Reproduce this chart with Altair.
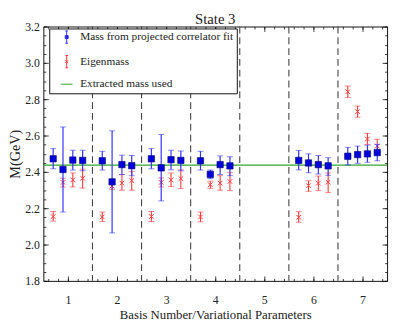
import altair as alt
import pandas as pd

# ---------------- data ----------------
basis = [1] * 4 + [2] * 4 + [3] * 4 + [4] * 4 + [6] * 4 + [7] * 4
param = [1, 2, 3, 4] * 6

fit_mass = [2.472, 2.413, 2.465, 2.463,
            2.461, 2.345, 2.440, 2.434,
            2.472, 2.422, 2.467, 2.463,
            2.461, 2.386, 2.440, 2.433,
            2.463, 2.449, 2.440, 2.433,
            2.486, 2.495, 2.499, 2.506]
fit_low = [2.417, 2.179, 2.410, 2.406,
           2.410, 2.064, 2.385, 2.379,
           2.417, 2.240, 2.411, 2.406,
           2.410, 2.363, 2.385, 2.379,
           2.411, 2.395, 2.388, 2.381,
           2.438, 2.447, 2.453, 2.461]
fit_high = [2.528, 2.647, 2.519, 2.519,
            2.513, 2.626, 2.492, 2.490,
            2.528, 2.606, 2.519, 2.515,
            2.513, 2.410, 2.488, 2.483,
            2.517, 2.499, 2.490, 2.478,
            2.535, 2.542, 2.547, 2.551]

eig_mass = [2.154, 2.342, 2.356, 2.365,
            2.152, 2.322, 2.338, 2.352,
            2.154, 2.342, 2.356, 2.363,
            2.152, 2.329, 2.338, 2.347,
            2.150, 2.324, 2.338, 2.343,
            2.841, 2.732, 2.581, 2.542]
eig_low = [2.129, 2.317, 2.317, 2.311,
           2.127, 2.304, 2.299, 2.299,
           2.127, 2.317, 2.319, 2.308,
           2.125, 2.309, 2.299, 2.297,
           2.123, 2.293, 2.297, 2.286,
           2.810, 2.701, 2.551, 2.504]
eig_high = [2.182, 2.365, 2.394, 2.415,
            2.179, 2.340, 2.385, 2.401,
            2.182, 2.367, 2.394, 2.411,
            2.179, 2.349, 2.379, 2.397,
            2.181, 2.351, 2.377, 2.394,
            2.873, 2.762, 2.612, 2.579]

extracted_mass = [2.437]
dividers = [1.5, 2.5, 3.5, 4.5, 5.5, 6.5]

x_major = [1, 2, 3, 4, 5, 6, 7]
x_minor = [round(0.6 + 0.2 * i, 1) for i in range(35)]
y_major = [1.8, 2.0, 2.2, 2.4, 2.6, 2.8, 3.0, 3.2]
y_minor = [round(1.8 + 0.05 * i, 2) for i in range(29)]

series = ["Mass from projected correlator fit", "Eigenmass", "Extracted mass used"]

# ---------------- tables ----------------
xpos = [b + (p - 2.5) * 0.2 for b, p in zip(basis, param)]
fit_df = pd.DataFrame({"x": xpos, "m": fit_mass, "lo": fit_low, "hi": fit_high})
eig_df = pd.DataFrame({"x": xpos, "m": eig_mass, "lo": eig_low, "hi": eig_high})
line_df = pd.DataFrame({"m": extracted_mass})
div_df = pd.DataFrame({"x": dividers})
legend_df = pd.DataFrame({"series": series})

# ---------------- styling ----------------
F = "Liberation Serif"
W, H = 350, 259
BLUE_BAR = "#3333ff"
BLUE_PT = "#0000dd"
RED = "#ff3b3b"
GREEN = "#2fa52f"
TXT = "#222222"

xs = alt.Scale(domain=[0.5, 7.5], nice=False, zero=False)
ys = alt.Scale(domain=[1.8, 3.2], nice=False, zero=False)


def tick_axis(orient, offset, values, size):
    return alt.Axis(orient=orient, offset=offset, values=values, tickSize=size,
                    tickColor="#111111", tickWidth=0.8, labels=False, domain=False,
                    grid=False, title=None)


x_label_axis = alt.Axis(orient="bottom", values=x_major, format="d", ticks=False,
                        tickSize=0, domain=False, grid=False, labelFont=F,
                        labelFontSize=12, labelColor=TXT, labelPadding=14,
                        title="Basis Number/Variational Parameters", titleFont=F,
                        titleFontSize=13, titleFontWeight="normal", titleColor=TXT,
                        titlePadding=3)
y_label_axis = alt.Axis(orient="left", values=y_major, format=".1f", ticks=False,
                        tickSize=0, domain=False, grid=False, labelFont=F,
                        labelFontSize=12, labelColor=TXT, labelPadding=4,
                        title="M(GeV)", titleFont=F, titleFontSize=14.5,
                        titleFontWeight="normal", titleColor=TXT, titlePadding=2)

P_BLUE = ("M-0.3,-0.3H0.3V0.3H-0.3Z M0,-1.25V1.25 M-0.28,-1.25H0.28 "
          "M-0.28,1.25H0.28")
P_RED = ("M-0.28,-0.28L0.28,0.28 M-0.28,0.28L0.28,-0.28 M0,-1.25V1.25 "
         "M-0.28,-1.25H0.28 M-0.28,1.25H0.28")
P_GREEN = "M-1.2,0H1.2"

legend = alt.Legend(title=None, orient="none", legendX=6, legendY=2)

# ---------------- layers ----------------
legend_layer = alt.Chart(legend_df).mark_point(opacity=0).encode(
    shape=alt.Shape("series:N",
                    scale=alt.Scale(domain=series, range=[P_BLUE, P_RED, P_GREEN]),
                    legend=legend),
    fill=alt.Fill("series:N",
                  scale=alt.Scale(domain=series,
                                  range=[BLUE_PT, "transparent", "transparent"]),
                  legend=legend),
    stroke=alt.Stroke("series:N",
                      scale=alt.Scale(domain=series, range=[BLUE_BAR, RED, GREEN]),
                      legend=legend),
)

green = alt.Chart(line_df).mark_rule(strokeWidth=1.2, color=GREEN).encode(
    y=alt.Y("m:Q", scale=ys, axis=y_label_axis))

div = alt.Chart(div_df).mark_rule(color="#444444", strokeDash=[7, 4],
                                  strokeWidth=1.1).encode(
    x=alt.X("x:Q", scale=xs, axis=x_label_axis))

red_bar = alt.Chart(eig_df).mark_rule(color=RED, strokeWidth=1.1).encode(
    x=alt.X("x:Q", scale=xs, axis=None),
    y=alt.Y("lo:Q", scale=ys, axis=None), y2="hi:Q")
red_lo = alt.Chart(eig_df).mark_tick(orient="horizontal", size=6, thickness=1,
                                     color=RED, opacity=0.6).encode(
    x=alt.X("x:Q", scale=xs, axis=None), y=alt.Y("lo:Q", scale=ys, axis=None))
red_hi = alt.Chart(eig_df).mark_tick(orient="horizontal", size=6, thickness=1,
                                     color=RED, opacity=0.6).encode(
    x=alt.X("x:Q", scale=xs, axis=None), y=alt.Y("hi:Q", scale=ys, axis=None))
red_pts = alt.Chart(eig_df).mark_point(shape="M-1,-1L1,1M-1,1L1,-1", size=22,
                                       filled=False, strokeWidth=1, color=RED,
                                       opacity=1).encode(
    x=alt.X("x:Q", scale=xs, axis=None), y=alt.Y("m:Q", scale=ys, axis=None))

blue_bar = alt.Chart(fit_df).mark_rule(color=BLUE_BAR, strokeWidth=1.2).encode(
    x=alt.X("x:Q", scale=xs, axis=tick_axis("top", -H, x_major, 5)),
    y=alt.Y("lo:Q", scale=ys, axis=tick_axis("right", -W, y_major, 5)), y2="hi:Q")
blue_lo = alt.Chart(fit_df).mark_tick(orient="horizontal", size=6, thickness=1,
                                      color=BLUE_BAR, opacity=0.6).encode(
    x=alt.X("x:Q", scale=xs, axis=tick_axis("top", -H, x_minor, 2.5)),
    y=alt.Y("lo:Q", scale=ys, axis=tick_axis("right", -W, y_minor, 2.5)))
blue_hi = alt.Chart(fit_df).mark_tick(orient="horizontal", size=6, thickness=1,
                                      color=BLUE_BAR, opacity=0.6).encode(
    x=alt.X("x:Q", scale=xs, axis=tick_axis("bottom", -H, x_major, 5)),
    y=alt.Y("hi:Q", scale=ys, axis=tick_axis("left", -W, y_major, 5)))
blue_pts = alt.Chart(fit_df).mark_point(shape="square", size=42, filled=True,
                                        color=BLUE_PT, stroke="#000070",
                                        strokeWidth=0.6, opacity=1).encode(
    x=alt.X("x:Q", scale=xs, axis=tick_axis("bottom", -H, x_minor, 2.5)),
    y=alt.Y("m:Q", scale=ys, axis=tick_axis("left", -W, y_minor, 2.5)))

chart = alt.layer(
    green, div, red_bar, red_lo, red_hi, red_pts,
    blue_bar, blue_lo, blue_hi, blue_pts, legend_layer,
).resolve_axis(x="independent", y="independent").properties(
    width=W, height=H,
    title=alt.Title("State 3", font=F, fontSize=15, fontWeight="normal",
                    color=TXT, offset=-6),
    autosize="none",
    padding={"left": 36, "top": 16, "right": 4, "bottom": 38},
    background="white",
).configure_view(stroke="#111111", strokeWidth=1).configure_legend(
    fillColor="white", strokeColor="#111111", padding=3,
    symbolSize=100, symbolOffset=9, labelOffset=8, rowPadding=8,
    symbolOpacity=1, symbolStrokeWidth=1,
    labelFont=F, labelFontSize=11.5, labelColor=TXT, labelLimit=400,
)

chart.save("out.html", embed_options={"renderer": "svg", "actions": False})
